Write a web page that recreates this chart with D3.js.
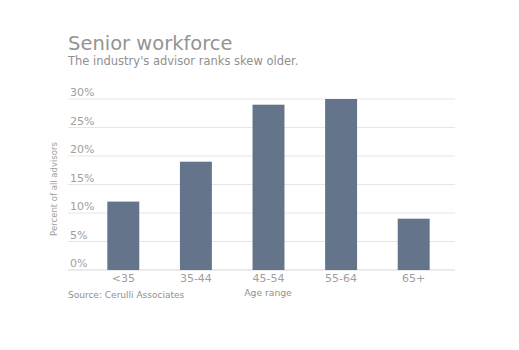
<!DOCTYPE html>
<html>
<head>
<meta charset="utf-8">
<script src="https://cdn.jsdelivr.net/npm/d3@7"></script>
<style>
  body { margin: 0; background: #fff; }
  text { font-family: "DejaVu Sans", Verdana, sans-serif; }
</style>
</head>
<body>
<div id="chart"></div>
<script>
const categories = ["<35", "35-44", "45-54", "55-64", "65+"];
const values = [12, 19, 29, 30, 9];
const yTicks = [0, 5, 10, 15, 20, 25, 30];

const width = 519;
const height = 350;

const svg = d3
  .select("#chart")
  .append("svg")
  .attr("width", width)
  .attr("height", height);

const x = d3
  .scaleBand()
  .domain(categories)
  .range([87, 450])
  .paddingInner(0.56)
  .paddingOuter(0.28);

const y = d3.scaleLinear().domain([0, 30]).range([270, 99]);

// gridlines + tick labels
const grid = svg.append("g");
grid
  .selectAll("line")
  .data(yTicks)
  .join("line")
  .attr("x1", 68)
  .attr("x2", 455)
  .attr("y1", (d) => y(d))
  .attr("y2", (d) => y(d))
  .attr("stroke", (d) => (d === 0 ? "#d6d6d6" : "#e6e6e6"))
  .attr("stroke-width", 1);

grid
  .selectAll("text")
  .data(yTicks)
  .join("text")
  .attr("x", 70)
  .attr("y", (d) => y(d) - 3)
  .attr("font-size", 11)
  .attr("fill", "#a0a0a0")
  .text((d) => d + "%");

// bars
svg
  .append("g")
  .selectAll("rect")
  .data(values)
  .join("rect")
  .attr("x", (d, i) => x(categories[i]))
  .attr("y", (d) => y(d))
  .attr("width", x.bandwidth())
  .attr("height", (d) => y(0) - y(d))
  .attr("fill", "#64748a");

// x labels
svg
  .append("g")
  .selectAll("text")
  .data(categories)
  .join("text")
  .attr("x", (d) => x(d) + x.bandwidth() / 2)
  .attr("y", 282)
  .attr("text-anchor", "middle")
  .attr("font-size", 11)
  .attr("fill", "#a0a0a0")
  .text((d) => d);

// titles
svg
  .append("text")
  .attr("x", 68)
  .attr("y", 50)
  .attr("font-size", 19.5)
  .attr("fill", "#949494")
  .text("Senior workforce");

svg
  .append("text")
  .attr("x", 68)
  .attr("y", 65)
  .attr("font-size", 11.5)
  .attr("fill", "#909090")
  .text("The industry's advisor ranks skew older.");

svg
  .append("text")
  .attr("x", 68)
  .attr("y", 298)
  .attr("font-size", 9)
  .attr("fill", "#909090")
  .text("Source: Cerulli Associates");

svg
  .append("text")
  .attr("x", 268)
  .attr("y", 296)
  .attr("text-anchor", "middle")
  .attr("font-size", 9.2)
  .attr("fill", "#909090")
  .text("Age range");

svg
  .append("text")
  .attr("transform", "translate(57,189) rotate(-90)")
  .attr("text-anchor", "middle")
  .attr("font-size", 8.5)
  .attr("fill", "#a0a0a0")
  .text("Percent of all advisors");
</script>
</body>
</html>
